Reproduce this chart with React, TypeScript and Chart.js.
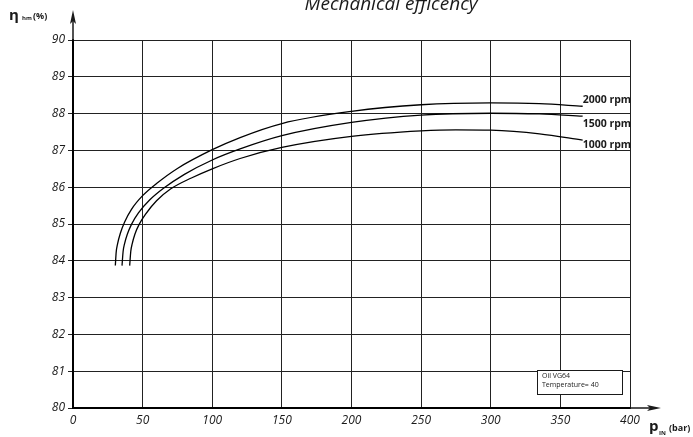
import { useEffect, useRef } from "react";
import { Chart, registerables } from "chart.js";

Chart.register(...registerables);

// ---- data ----
const seriesLabels = ["2000 rpm", "1500 rpm", "1000 rpm"];
const p2000 = [30.4, 31, 32, 34, 37, 42, 50, 60, 75, 100, 120, 150, 200, 250, 300, 335, 366];
const eta2000 = [83.87, 84.23, 84.46, 84.75, 85.05, 85.4, 85.77, 86.1, 86.51, 87.02, 87.35, 87.73, 88.06, 88.24, 88.29, 88.27, 88.2];
const p1500 = [35.2, 36, 37, 39, 42, 47, 55, 65, 80, 100, 120, 150, 200, 250, 300, 335, 366];
const eta1500 = [83.87, 84.26, 84.46, 84.72, 84.99, 85.3, 85.65, 85.97, 86.35, 86.74, 87.04, 87.4, 87.76, 87.96, 88.01, 87.99, 87.93];
const p1000 = [40.7, 41.5, 42.5, 44.5, 47.5, 52, 60, 70, 85, 100, 120, 150, 200, 250, 275, 300, 335, 366];
const eta1000 = [83.87, 84.26, 84.46, 84.73, 84.99, 85.26, 85.63, 85.95, 86.25, 86.5, 86.78, 87.08, 87.38, 87.53, 87.56, 87.55, 87.45, 87.28];
const xTicks = [0, 50, 100, 150, 200, 250, 300, 350, 400];
const yTicks = [80, 81, 82, 83, 84, 85, 86, 87, 88, 89, 90];
const titleText = "Mechanical efficency";
const noteLines = ["Oil VG64", "Temperature= 40"];

// ---- styles ----
const FONT = "'Open Sans', 'Noto Sans', sans-serif";
const INK = "#1a1a1a";
const labelOffsets = [-6, 8, 5];

const toPoints = (xs: number[], ys: number[]) => xs.map((x, i) => ({ x, y: ys[i] }));

const decorPlugin = {
  id: "decor",
  afterDraw(chart: any) {
    const ctx = chart.ctx;
    const xs = chart.scales.x;
    const ys = chart.scales.y;
    const ca = chart.chartArea;
    ctx.save();
    ctx.fillStyle = INK;
    ctx.strokeStyle = INK;

    // title
    ctx.font = `italic 19px ${FONT}`;
    ctx.textAlign = "center";
    ctx.textBaseline = "alphabetic";
    ctx.fillText(titleText, 391, 10);

    // axis extension arrows
    ctx.lineWidth = 1.5;
    ctx.beginPath();
    ctx.moveTo(ca.left, ca.top);
    ctx.lineTo(ca.left, 18);
    ctx.moveTo(ca.right, ca.bottom);
    ctx.lineTo(654, ca.bottom);
    ctx.stroke();
    ctx.beginPath();
    ctx.moveTo(ca.left, 10);
    ctx.lineTo(ca.left - 3, 24);
    ctx.lineTo(ca.left, 21);
    ctx.lineTo(ca.left + 3, 24);
    ctx.closePath();
    ctx.fill();
    ctx.beginPath();
    ctx.moveTo(661, ca.bottom);
    ctx.lineTo(647, ca.bottom - 3);
    ctx.lineTo(650, ca.bottom);
    ctx.lineTo(647, ca.bottom + 3);
    ctx.closePath();
    ctx.fill();

    // y axis label
    ctx.textAlign = "left";
    ctx.font = `bold 15px ${FONT}`;
    ctx.fillText("η", 9, 20);
    ctx.font = `bold 6px ${FONT}`;
    ctx.fillText("hm", 22, 20);
    ctx.font = `bold 9px ${FONT}`;
    ctx.fillText("(%)", 33, 19);

    // x axis label
    ctx.font = `bold 15px ${FONT}`;
    ctx.fillText("p", 649, 431);
    ctx.font = `bold 6px ${FONT}`;
    ctx.fillText("IN", 659, 435);
    ctx.font = `bold 9px ${FONT}`;
    ctx.fillText("(bar)", 669, 431);

    // series labels
    ctx.font = `bold 10.5px ${FONT}`;
    ctx.textBaseline = "middle";
    chart.data.datasets.forEach((ds: any, i: number) => {
      const last = ds.data[ds.data.length - 1];
      const px = xs.getPixelForValue(last.x);
      const py = ys.getPixelForValue(last.y);
      ctx.fillText(ds.label, px, py + labelOffsets[i]);
    });

    // note box
    ctx.fillStyle = "#ffffff";
    ctx.fillRect(537, 370, 85, 24);
    ctx.lineWidth = 1;
    ctx.strokeStyle = INK;
    ctx.strokeRect(537.5, 370.5, 85, 24);
    ctx.fillStyle = INK;
    ctx.font = `7px ${FONT}`;
    ctx.textBaseline = "middle";
    noteLines.forEach((t, i) => ctx.fillText(t, 542, 375.5 + i * 9));

    ctx.restore();
  },
};

export default function App() {
  const ref = useRef<HTMLCanvasElement | null>(null);
  useEffect(() => {
    if (!ref.current) return;
    const chart = new Chart(ref.current, {
      type: "line",
      data: {
        datasets: [
          { label: seriesLabels[0], data: toPoints(p2000, eta2000) },
          { label: seriesLabels[1], data: toPoints(p1500, eta1500) },
          { label: seriesLabels[2], data: toPoints(p1000, eta1000) },
        ].map((d) => ({
          ...d,
          borderColor: "#000",
          borderWidth: 1.3,
          pointRadius: 0,
          fill: false,
          cubicInterpolationMode: "monotone" as const,
        })),
      },
      options: {
        responsive: false,
        animation: false,
        layout: { padding: { top: 40, right: 63, left: 0, bottom: 0 } },
        plugins: { legend: { display: false }, tooltip: { enabled: false }, title: { display: false } },
        scales: {
          x: {
            type: "linear",
            min: 0,
            max: 400,
            afterFit: (s: any) => { s.height = 29; },
            afterBuildTicks: (s: any) => { s.ticks = xTicks.map((v) => ({ value: v })); },
            ticks: { font: { family: FONT, size: 12, style: "italic" }, color: INK, padding: 5, maxRotation: 0 },
            grid: { color: "#222", lineWidth: 1, drawTicks: false },
            border: { color: "#000", width: 2 },
          },
          y: {
            type: "linear",
            min: 80,
            max: 90,
            afterFit: (s: any) => { s.width = 73; },
            afterBuildTicks: (s: any) => { s.ticks = yTicks.map((v) => ({ value: v })); },
            ticks: { font: { family: FONT, size: 12, style: "italic" }, color: INK, padding: 3 },
            grid: { color: "#222", lineWidth: 1, tickLength: 5 },
            border: { color: "#000", width: 2 },
          },
        },
      },
      plugins: [decorPlugin],
    } as any);
    return () => chart.destroy();
  }, []);
  return (
    <div style={{ position: "absolute", left: 0, top: 0, width: 693, height: 437, background: "#fff" }}>
      <canvas ref={ref} width={693} height={437} style={{ display: "block" }} />
    </div>
  );
}
